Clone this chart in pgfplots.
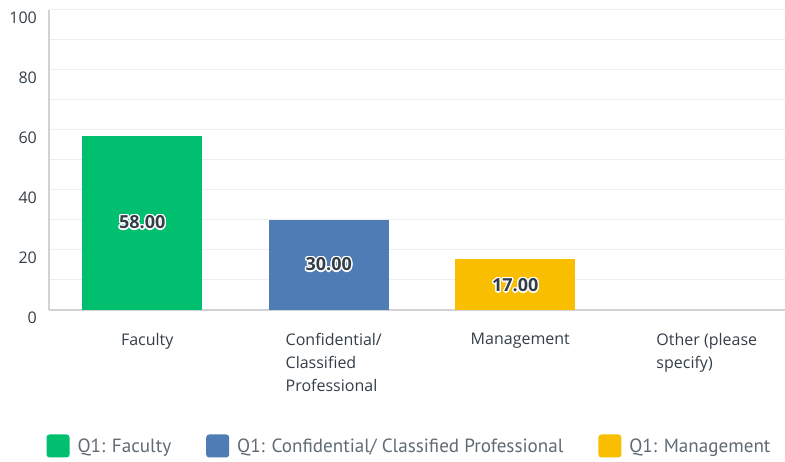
\documentclass[border=0pt]{standalone}
\usepackage{fontspec}
\setmainfont{Open Sans}
\newfontfamily\legfont{PT Sans}
\usepackage{pgfplots}
\pgfplotsset{compat=1.18}
\usepackage{contour}
\contourlength{1.3pt}
\contournumber{16}
\definecolor{cgreen}{HTML}{00BF6F}
\definecolor{cblue}{HTML}{507CB6}
\definecolor{cyellow}{HTML}{F9BE00}
\definecolor{ctext}{HTML}{333E48}
\definecolor{clegtext}{HTML}{5F6B73}
\definecolor{cgrid}{HTML}{EDEEEE}
\definecolor{caxis}{HTML}{D0D2D3}
\begin{document}
\begin{tikzpicture}
\begin{axis}[
  at={(0pt,0pt)}, anchor=south west,
  scale only axis, width=736pt, height=300pt,
  xmin=-0.5, xmax=3.446, ymin=0, ymax=100,
  axis x line*=bottom, axis y line*=left,
  axis line style={caxis, line width=1.2pt},
  x axis line style={-}, y axis line style={-},
  ytick={0,20,...,100}, minor ytick={10,30,...,90},
  ymajorgrids, yminorgrids,
  major grid style={cgrid, line width=1pt},
  minor grid style={cgrid, line width=1pt},
  major tick length=0pt, minor tick length=0pt,
  xtick={0,1,2,3},
  xticklabels={Faculty, {Confidential/\\Classified\\Professional}, Management, {Other (please\\specify)}},
  xticklabel style={font=\fontsize{16}{23}\selectfont, text=ctext, align=left, anchor=north, inner sep=0pt, yshift=-23pt, xshift=5pt},
  yticklabel style={font=\fontsize{16}{19}\selectfont, text=ctext, anchor=east, inner sep=0pt, xshift=-12pt, yshift=-8pt},
  /pgf/number format/assume math mode=true,
  ybar, bar width=120pt,
  legend columns=3,
  legend style={draw=none, fill=none, at={(axis description cs:0.4898,-0.4533)}, anchor=center,
    font=\legfont\fontsize{19.1}{22}\selectfont, text=clegtext,
    /tikz/every even column/.append style={column sep=33pt},
    /tikz/every odd column/.append style={column sep=6pt}},
  legend image code/.code={\fill[#1, rounded corners=3pt] (0pt,-11.5pt) rectangle (23pt,11.5pt);},
  legend cell align=left,
]
\addplot[fill=cgreen, draw=none, bar shift=0pt] coordinates {(0,58)};
\addlegendentry{Q1: Faculty}
\addplot[fill=cblue, draw=none, bar shift=0pt] coordinates {(1,30)};
\addlegendentry{Q1: Confidential/ Classified Professional}
\addplot[fill=cyellow, draw=none, bar shift=0pt] coordinates {(2,17)};
\addlegendentry{Q1: Management}
\addplot[draw=none, mark=none, forget plot, bar shift=0pt, bar width=0pt,
  nodes near coords={\contour{white}{\pgfplotspointmeta}},
  point meta=explicit symbolic,
  every node near coord/.style={anchor=center, font=\bfseries\fontsize{18}{20}\selectfont, text=ctext}]
  coordinates {(0,29)[58.00] (1,15)[30.00] (2,8)[17.00]};
\end{axis}
\pgfresetboundingbox
\path (-49pt,-152pt) rectangle (736pt,310pt);
\end{tikzpicture}
\end{document}
